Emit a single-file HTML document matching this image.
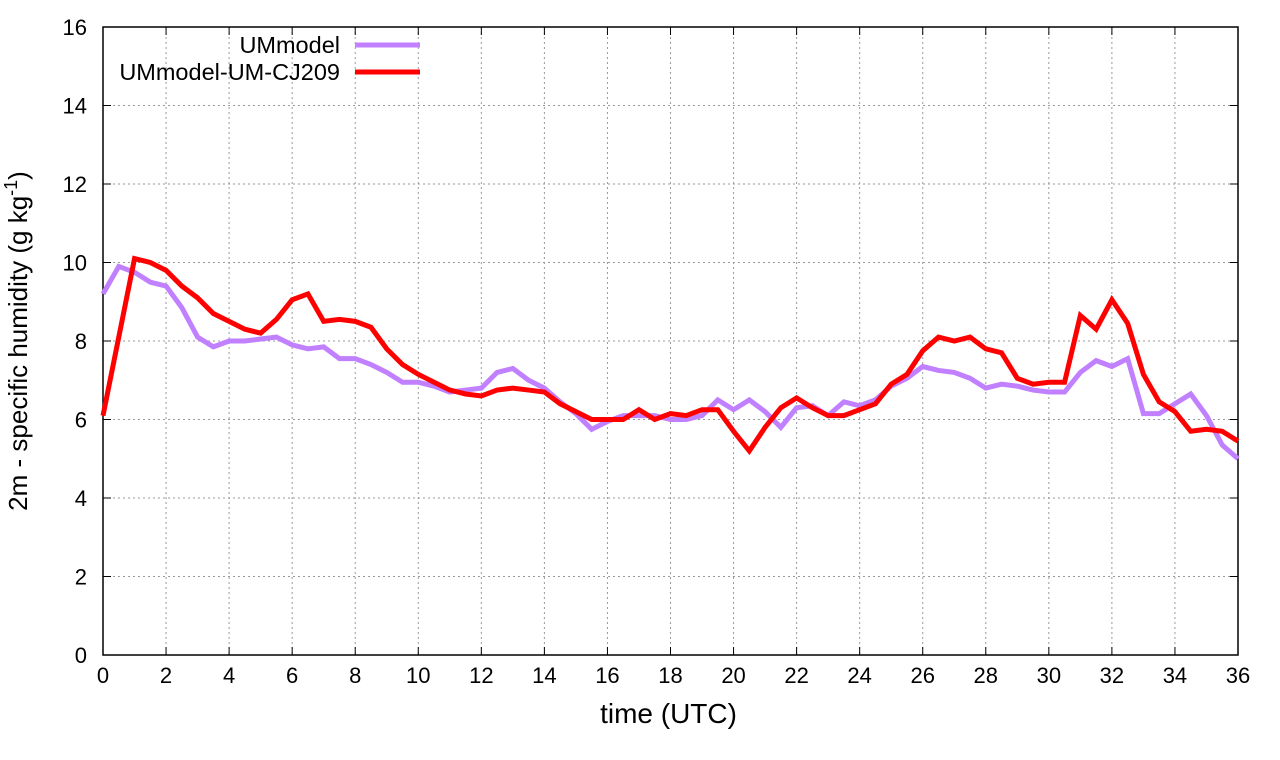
<!DOCTYPE html>
<html><head><meta charset="utf-8"><style>
body{margin:0;background:#fff}
svg{display:block;font-family:"Liberation Sans",sans-serif}
</style></head><body>
<svg id="chart" width="1280" height="760" viewBox="0 0 1280 760"></svg>
<script>
const times=[];for(let i=0;i<=72;i++)times.push(i*0.5);
const umModel=[9.2,9.9,9.75,9.5,9.4,8.85,8.1,7.85,8.0,8.0,8.05,8.1,7.9,7.8,7.85,7.55,7.55,7.4,7.2,6.95,6.95,6.85,6.7,6.75,6.8,7.2,7.3,7.0,6.8,6.45,6.15,5.75,5.95,6.1,6.1,6.1,6.0,6.0,6.1,6.5,6.25,6.5,6.2,5.8,6.3,6.35,6.1,6.45,6.35,6.5,6.85,7.05,7.35,7.25,7.2,7.05,6.8,6.9,6.85,6.75,6.7,6.7,7.2,7.5,7.35,7.55,6.15,6.15,6.4,6.65,6.1,5.35,5.0];
const umCJ209=[6.1,8.1,10.1,10.0,9.8,9.4,9.1,8.7,8.5,8.3,8.2,8.55,9.05,9.2,8.5,8.55,8.5,8.35,7.8,7.4,7.15,6.95,6.75,6.65,6.6,6.75,6.8,6.75,6.7,6.4,6.2,6.0,6.0,6.0,6.25,6.0,6.15,6.1,6.25,6.25,5.7,5.2,5.8,6.3,6.55,6.3,6.1,6.1,6.25,6.4,6.9,7.15,7.75,8.1,8.0,8.1,7.8,7.7,7.05,6.9,6.95,6.95,8.65,8.3,9.05,8.45,7.15,6.45,6.2,5.7,5.75,5.7,5.45];
const xTicks=[0,2,4,6,8,10,12,14,16,18,20,22,24,26,28,30,32,34,36];
const yTicks=[0,2,4,6,8,10,12,14,16];
const L=103,R=1238,T=27,B=655;
const X=v=>L+(v/36)*(R-L), Y=v=>B-(v/16)*(B-T);
const svg=document.getElementById('chart');const NS='http://www.w3.org/2000/svg';
function mk(tag,attrs,parent){const e=document.createElementNS(NS,tag);for(const k in attrs)e.setAttribute(k,attrs[k]);(parent||svg).appendChild(e);return e;}
const grid=mk('g',{});


xTicks.forEach(t=>{
 if(t>0&&t<36){const g=mk('line',{x1:X(t),x2:X(t),y1:T,y2:B,stroke:'#999','stroke-dasharray':'2,3','stroke-width':1},grid);
 
 }
 const tk=mk('line',{x1:X(t),x2:X(t),y1:B,y2:B-8,stroke:'#000'});
 
 
 const tk2=mk('line',{x1:X(t),x2:X(t),y1:T,y2:T+8,stroke:'#000'});
 
 
 const lb=mk('text',{x:X(t),y:B+28,'text-anchor':'middle','font-size':22});lb.textContent=t;
 
 
});
yTicks.forEach(t=>{
 if(t>0&&t<16){const g=mk('line',{x1:L,x2:R,y1:Y(t),y2:Y(t),stroke:'#999','stroke-dasharray':'2,3','stroke-width':1},grid);
 
 }
 const tk=mk('line',{x1:L,x2:L+8,y1:Y(t),y2:Y(t),stroke:'#000'});
 
 
 const tk2=mk('line',{x1:R,x2:R-8,y1:Y(t),y2:Y(t),stroke:'#000'});
 
 
 const lb=mk('text',{x:L-16,y:Y(t)+8,'text-anchor':'end','font-size':22});lb.textContent=t;
 
 
});
const frame=mk('rect',{x:L,y:T,width:R-L,height:B-T,fill:'none',stroke:'#000','stroke-width':1.5});


function series(vals,color,name){
 const p=mk('polyline',{points:vals.map((v,i)=>X(times[i])+','+Y(v)).join(' '),fill:'none',stroke:color,'stroke-width':5,'stroke-linejoin':'miter'});
 
 
}
series(umModel,'#c080ff','series-ummodel');
series(umCJ209,'#ff0000','series-ummodel-um-cj209');
[['UMmodel','#c080ff',45,'legend-entry-ummodel'],['UMmodel-UM-CJ209','#ff0000',72,'legend-entry-cj209']].forEach(([t,c,y,n])=>{
 const g=mk('g',{});
 
 
 const tx=mk('text',{x:340,y:y+8,'text-anchor':'end','font-size':23.5},g);tx.textContent=t;
 mk('line',{x1:355,x2:420,y1:y,y2:y,stroke:c,'stroke-width':5},g);
});
const xt=mk('text',{x:(L+R)/2+(-2),y:723,'text-anchor':'middle','font-size':28});xt.textContent='time (UTC)';


const yt=mk('text',{x:0,y:0,'text-anchor':'middle','font-size':26,transform:'translate(27,341) rotate(-90)'});
yt.innerHTML='2m - specific humidity (g kg<tspan dy="-10" font-size="18">-1</tspan><tspan dy="10">)</tspan>';


</script>
</body></html>
